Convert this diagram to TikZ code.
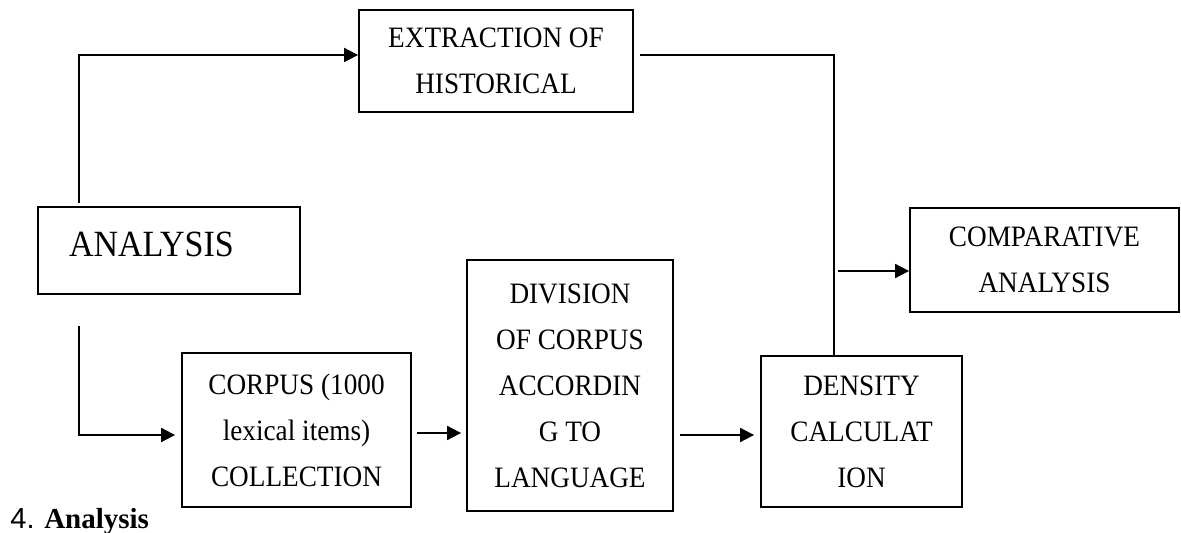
\documentclass[tikz,border=0pt]{standalone}
\usepackage{fontspec}
\setmainfont{Liberation Serif}
\newfontfamily\boxfont[FakeStretch=0.92]{Liberation Serif}
\newfontfamily\numfont{Liberation Sans}
\usetikzlibrary{arrows.meta,positioning}
\tikzset{
    stage/.style={
        rectangle,
        draw=black,
        line width=0.9pt,
        align=center,
        font=\boxfont\fontsize{14.8}{23}\selectfont,
    },
    flow/.style={
        draw,
        line width=0.9pt,
        -{Triangle[length=7pt,width=7pt]},
    },
    link/.style={
        draw,
        line width=0.9pt,
    },
}

\begin{document}
\begin{tikzpicture}[x=0.5pt,y=-0.5pt]
    \useasboundingbox (0,0) rectangle (1181,533);
    % boxes
    \node [stage, minimum width=137pt, minimum height=51pt] (extract) at (496,61) {EXTRACTION OF\\HISTORICAL};
    \node [stage, font=\boxfont\fontsize{18.5}{21}\selectfont, minimum width=131pt, minimum height=43.5pt,
           text width=100pt, inner xsep=15.5pt, align=left, text depth=6.5pt] (analysis) at (169,250.5) {ANALYSIS};
    \node [stage, minimum width=114.5pt, minimum height=77pt] (corpus) at (296.5,430) {CORPUS (1000\\lexical items)\\COLLECTION};
    \node [stage, minimum width=103pt, minimum height=125.5pt] (division) at (570,385.5) {DIVISION\\OF CORPUS\\ACCORDIN\\G TO\\LANGUAGE};
    \node [stage, minimum width=100.5pt, minimum height=75.5pt] (density) at (861.5,431.5) {DENSITY\\CALCULAT\\ION};
    \node [stage, minimum width=134.5pt, minimum height=52pt] (compare) at (1044.5,260) {COMPARATIVE\\ANALYSIS};
    \node [anchor=base west, inner sep=0pt, font=\fontsize{14.5}{17}\selectfont] (caption) at (10,528) {{\numfont 4.} \textbf{Analysis}};
    % turn points
    \coordinate (upstart) at (79,203);
    \coordinate (downstart) at (79,326);
    \coordinate (join) at (834,55);
    \coordinate (tee) at (834,271);
    % connectors
    \draw [flow] (upstart) |- ([yshift=3pt]extract.west);
    \draw [flow, shorten >=3pt] (downstart) |- ([yshift=-2.5pt]corpus.west);
    \draw [flow, shorten <=2.5pt, shorten >=2.5pt] ([yshift=-1.5pt]corpus.east) -- ([yshift=-1.5pt]corpus.east -| division.west);
    \draw [flow, shorten <=3pt, shorten >=3pt] ([yshift=-1.75pt]density.west -| division.east) -- ([yshift=-1.75pt]density.west);
    \draw [link, shorten <=3pt] ([yshift=3pt]extract.east) -- (join) -- (join |- density.north);
    \draw [flow, shorten <=2pt] (tee) -- (tee -| compare.west);
\end{tikzpicture}
\end{document}
